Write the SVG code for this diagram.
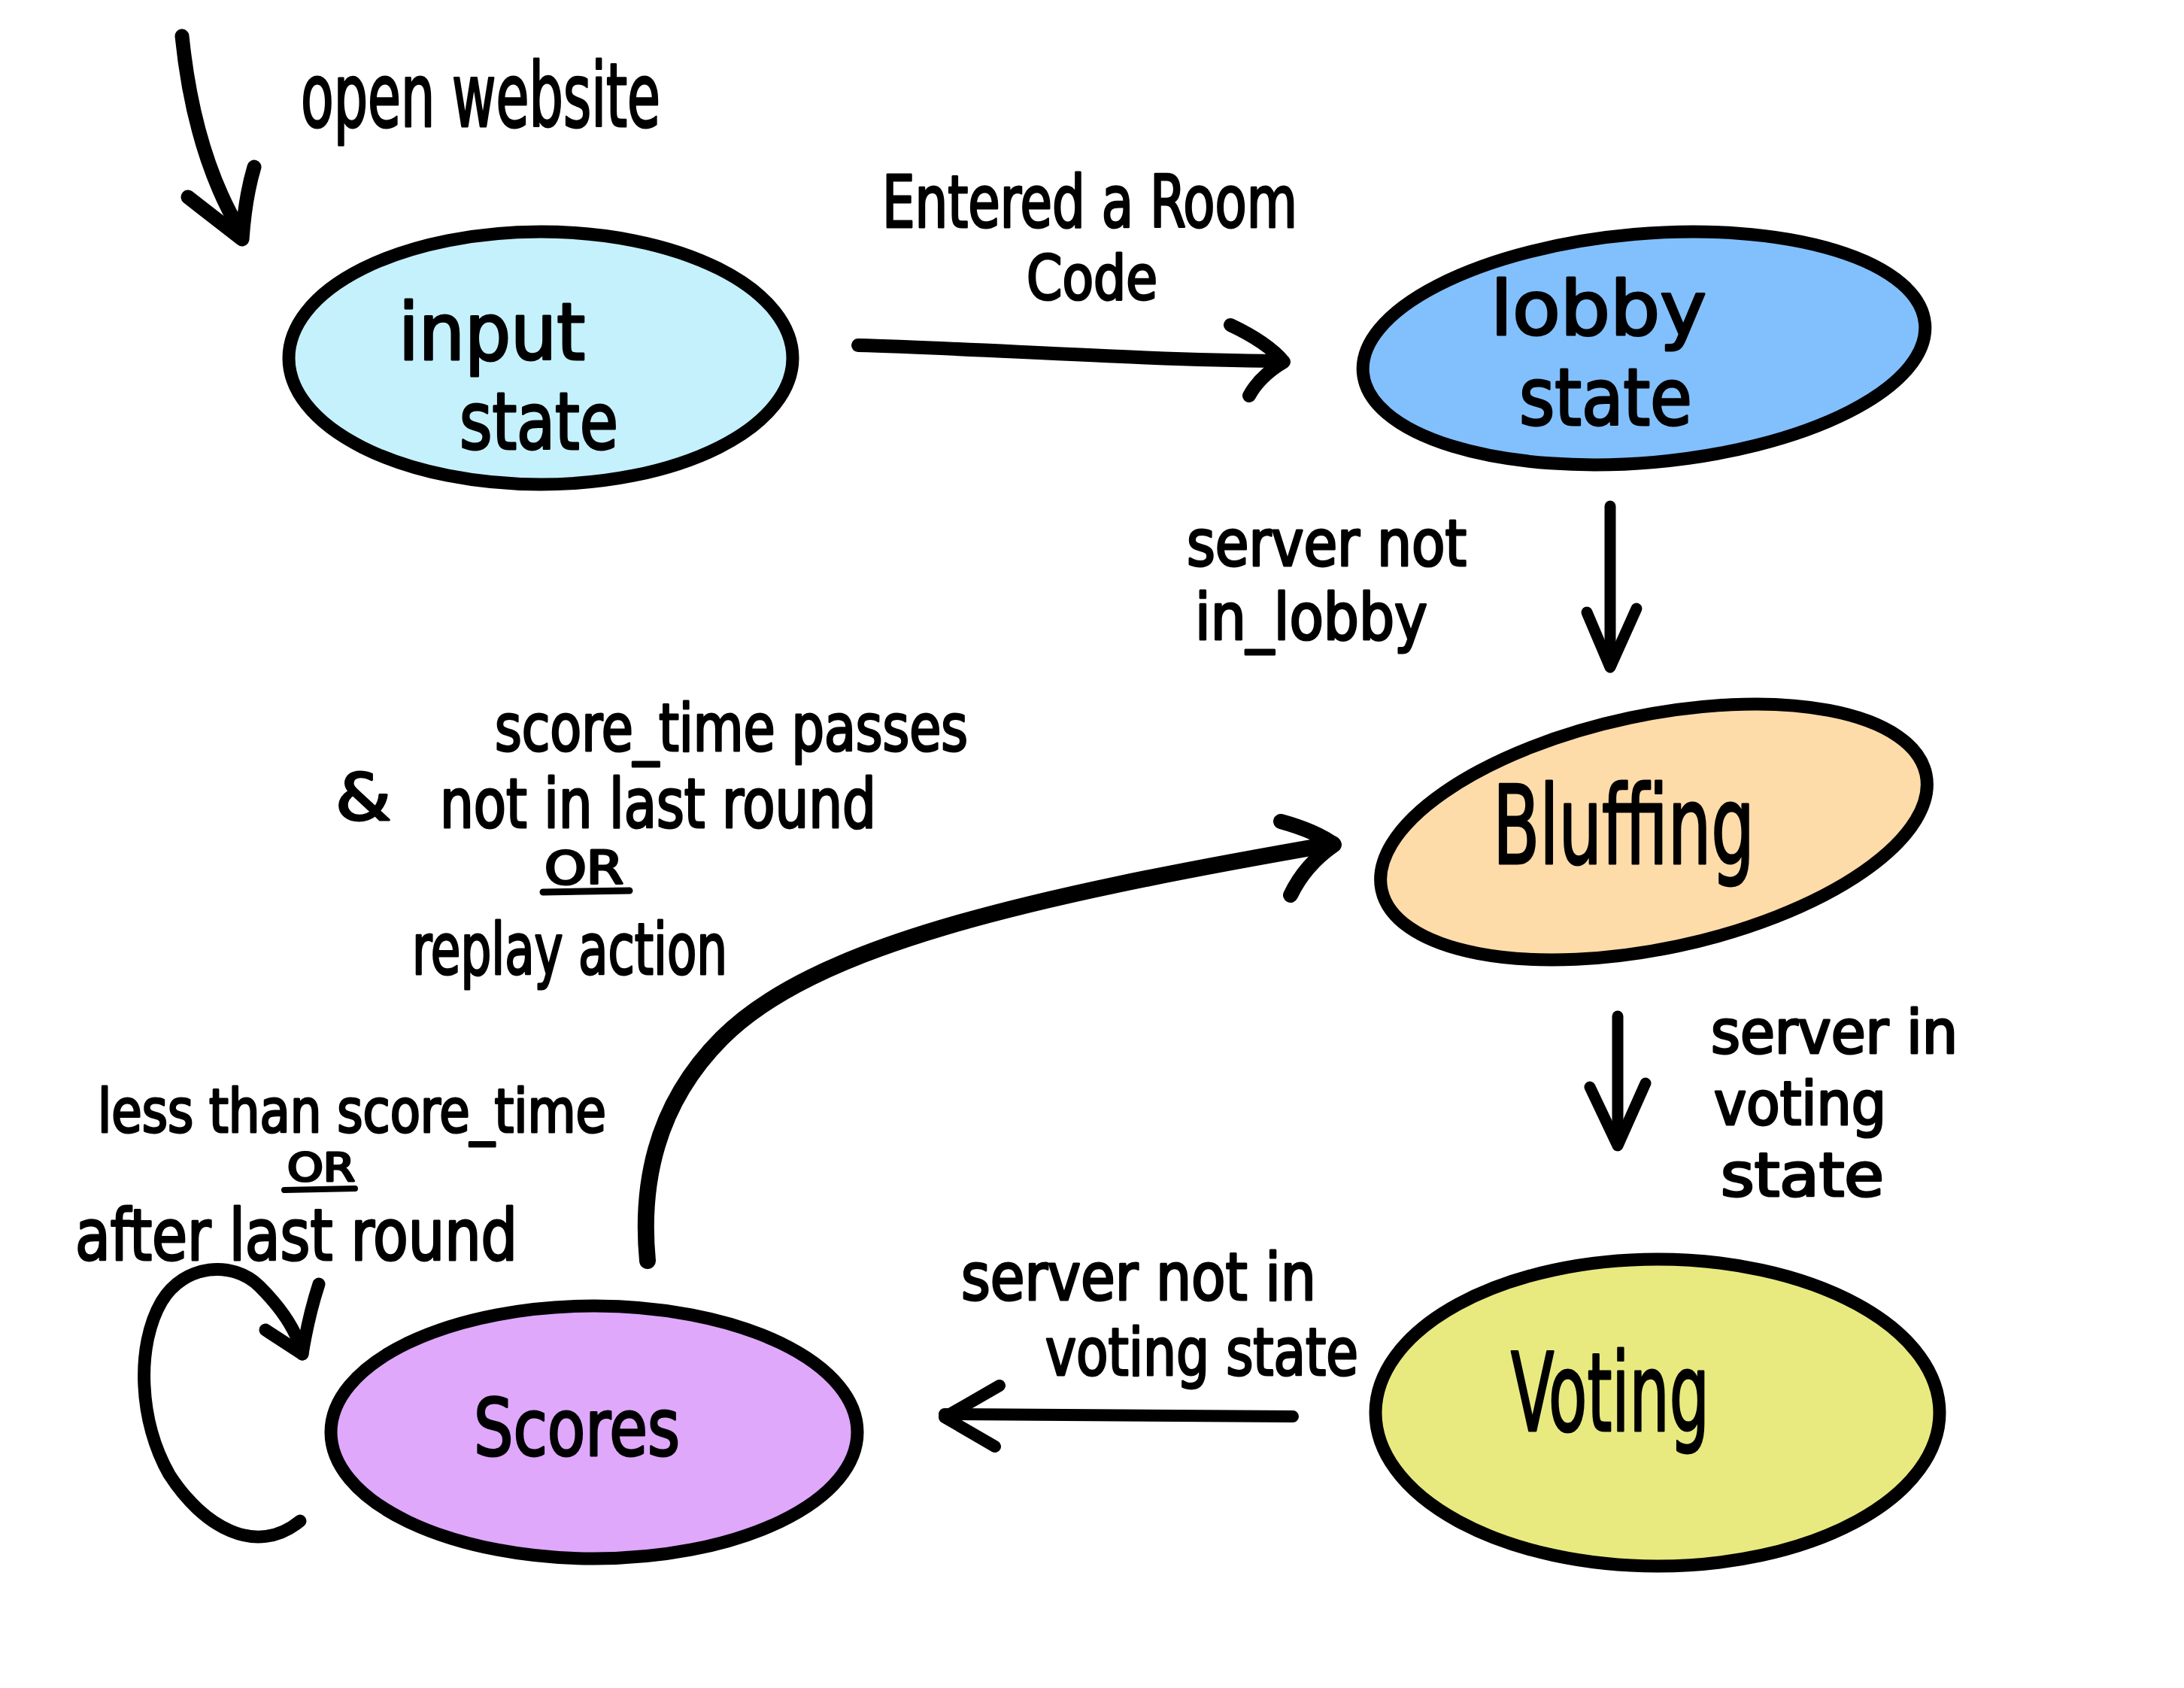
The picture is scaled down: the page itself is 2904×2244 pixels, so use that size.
<svg xmlns="http://www.w3.org/2000/svg" width="2904" height="2244" viewBox="0 0 2904 2244">
<style>
.node{stroke:#000;stroke-width:17}
.t{font-family:"Liberation Sans Narrow","DejaVu Sans Condensed","Liberation Sans",sans-serif;fill:#000;stroke:#000;stroke-width:3;stroke-linejoin:round}
.c{fill:none;stroke:#000;stroke-linecap:round;stroke-linejoin:round}
</style>
<rect width="2904" height="2244" fill="#fff"/>
<g id="connectors">
  <g id="e-start">
    <path class="c" stroke-width="19" d="M242,48 Q258,205 320,308"/>
    <path class="c" stroke-width="19" d="M250,262 L322,318 Q326,262 338,222"/>
    <text class="t" x="400" y="168" font-size="118" textLength="478" lengthAdjust="spacingAndGlyphs">open website</text>
  </g>
  <g id="e-input-lobby">
    <path class="c" stroke-width="18" d="M1141,459 C1300,463 1500,478 1700,480"/>
    <path class="c" stroke-width="18" d="M1636,432 Q1685,455 1707,481 Q1675,500 1661,526"/>
    <text class="t" x="1173" y="302" font-size="96" textLength="552" lengthAdjust="spacingAndGlyphs">Entered a Room</text>
    <text class="t" x="1365" y="398" font-size="82" textLength="174" lengthAdjust="spacingAndGlyphs">Code</text>
  </g>
  <g id="e-lobby-bluffing">
    <path class="c" stroke-width="15" d="M2141,673 L2141,885"/>
    <path class="c" stroke-width="15" d="M2110,814 L2141,887 L2176,809"/>
    <text class="t" x="1578" y="752" font-size="85" textLength="372" lengthAdjust="spacingAndGlyphs">server not</text>
    <text class="t" x="1589" y="850" font-size="85" textLength="309" lengthAdjust="spacingAndGlyphs">in_lobby</text>
  </g>
  <g id="e-bluffing-voting">
    <path class="c" stroke-width="15" d="M2151,1351 L2151,1520"/>
    <path class="c" stroke-width="15" d="M2114,1445 L2151,1523 L2188,1440"/>
    <text class="t" x="2275" y="1400" font-size="80" textLength="328" lengthAdjust="spacingAndGlyphs">server in</text>
    <text class="t" x="2279" y="1495" font-size="80" textLength="229" lengthAdjust="spacingAndGlyphs">voting</text>
    <text class="t" x="2288" y="1590" font-size="80" textLength="217" lengthAdjust="spacingAndGlyphs">state</text>
  </g>
  <g id="e-voting-scores">
    <path class="c" stroke-width="16" d="M1719,1883 L1256,1880"/>
    <path class="c" stroke-width="16" d="M1329,1842 L1256,1884 L1323,1923"/>
    <text class="t" x="1278" y="1728" font-size="88" textLength="472" lengthAdjust="spacingAndGlyphs">server not in</text>
    <text class="t" x="1390" y="1828" font-size="88" textLength="416" lengthAdjust="spacingAndGlyphs">voting state</text>
  </g>
  <g id="e-scores-bluffing">
    <path class="c" stroke-width="22" d="M861,1676 C850,1560 880,1460 960,1380 C1080,1260 1350,1195 1772,1122"/>
    <path class="c" stroke-width="20" d="M1703,1092 Q1750,1105 1774,1123 Q1735,1150 1716,1190"/>
    <text class="t" x="658" y="998" font-size="88" textLength="629" lengthAdjust="spacingAndGlyphs">score_time passes</text>
    <text class="t" x="446" y="1090" font-size="85" textLength="74" lengthAdjust="spacingAndGlyphs">&amp;</text>
    <text class="t" x="585" y="1100" font-size="90" textLength="580" lengthAdjust="spacingAndGlyphs">not in last round</text>
    <text class="t" x="724" y="1175" font-size="60" textLength="105" lengthAdjust="spacingAndGlyphs">OR</text>
    <path class="c" stroke-width="9" d="M722,1186 L837,1184"/>
    <text class="t" x="548" y="1295" font-size="95" textLength="419" lengthAdjust="spacingAndGlyphs">replay action</text>
  </g>
  <g id="e-scores-self">
    <path class="c" stroke-width="17" d="M399,2022 C340,2070 270,2030 225,1960 C185,1890 180,1790 215,1730 C245,1680 310,1675 345,1710 C375,1740 395,1770 402,1800"/>
    <path class="c" stroke-width="17" d="M353,1768 L402,1800 Q410,1750 424,1707"/>
    <text class="t" x="130" y="1505" font-size="80" textLength="676" lengthAdjust="spacingAndGlyphs">less than score_time</text>
    <text class="t" x="382" y="1570" font-size="52" textLength="90" lengthAdjust="spacingAndGlyphs">OR</text>
    <path class="c" stroke-width="8" d="M378,1582 L472,1580"/>
    <text class="t" x="100" y="1675" font-size="95" textLength="588" lengthAdjust="spacingAndGlyphs">after last round</text>
  </g>
</g>
<g id="node-input">
  <ellipse class="node" cx="719" cy="476" rx="335" ry="168" fill="#c5f1fd"/>
  <text class="t" x="530" y="478" font-size="105" textLength="248" lengthAdjust="spacingAndGlyphs">input</text>
  <text class="t" x="611" y="597" font-size="105" textLength="211" lengthAdjust="spacingAndGlyphs">state</text>
</g>
<g id="node-lobby">
  <ellipse class="node" cx="2186" cy="463" rx="375" ry="152" transform="rotate(-5 2186 463)" fill="#82c0fd"/>
  <text class="t" x="1982" y="445" font-size="100" textLength="287" lengthAdjust="spacingAndGlyphs">lobby</text>
  <text class="t" x="2020" y="565" font-size="105" textLength="230" lengthAdjust="spacingAndGlyphs">state</text>
</g>
<g id="node-bluffing">
  <ellipse class="node" cx="2199" cy="1106" rx="370" ry="155" transform="rotate(-12 2199 1106)" fill="#fddcaa"/>
  <text class="t" x="1985" y="1148" font-size="145" textLength="348" lengthAdjust="spacingAndGlyphs">Bluffing</text>
</g>
<g id="node-voting">
  <ellipse class="node" cx="2204" cy="1878" rx="375" ry="204" fill="#e8ea80"/>
  <text class="t" x="2009" y="1902" font-size="145" textLength="264" lengthAdjust="spacingAndGlyphs">Voting</text>
</g>
<g id="node-scores">
  <ellipse class="node" cx="790" cy="1904" rx="350" ry="168" fill="#dfa8fb"/>
  <text class="t" x="630" y="1935" font-size="105" textLength="274" lengthAdjust="spacingAndGlyphs">Scores</text>
</g>
</svg>
